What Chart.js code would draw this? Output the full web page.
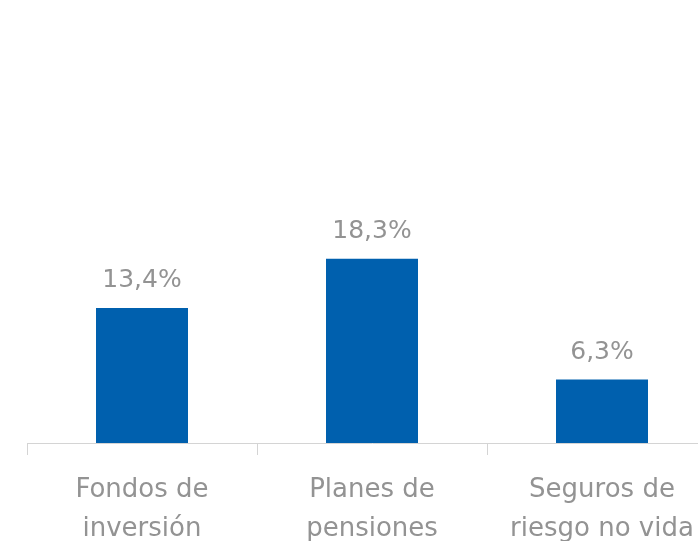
<!DOCTYPE html>
<html>
<head>
<meta charset="utf-8">
<script src="https://cdn.jsdelivr.net/npm/chart.js@4/dist/chart.umd.min.js"></script>
<style>
  html, body { margin: 0; padding: 0; background: #fff; overflow: hidden; }
  #wrap { width: 740px; height: 541px; }
</style>
</head>
<body>
<div id="wrap"><canvas id="grafico"></canvas></div>
<script>
const categorias = [['Fondos de', 'inversión'], ['Planes de', 'pensiones'], ['Seguros de', 'riesgo no vida']];
const valores = [13.4, 18.3, 6.3];

const colorBarra = '#0060ae';
const colorTexto = '#939393';
const fuente = '"DejaVu Sans", sans-serif';

// etiquetas de valor encima de cada barra
const etiquetasValor = {
  id: 'etiquetasValor',
  afterDatasetsDraw(chart) {
    const ctx = chart.ctx;
    const meta = chart.getDatasetMeta(0);
    ctx.save();
    ctx.font = '25px ' + fuente;
    ctx.fillStyle = colorTexto;
    ctx.textAlign = 'center';
    ctx.textBaseline = 'alphabetic';
    meta.data.forEach((bar, i) => {
      const txt = valores[i].toFixed(1).replace('.', ',') + '%';
      ctx.fillText(txt, bar.x, bar.y - 21);
    });
    ctx.restore();
  }
};

const grafx = document.getElementById('grafico').getContext('2d');
const grafico = new Chart(grafx, {
  type: 'bar',
  data: {
    labels: categorias,
    datasets: [{
      data: valores,
      backgroundColor: colorBarra,
      barPercentage: 0.4,
      categoryPercentage: 1
    }]
  },
  options: {
    responsive: true,
    maintainAspectRatio: false,
    animation: false,
    layout: { padding: { left: 27, right: 23, top: 0, bottom: 0 } },
    plugins: { legend: { display: false }, tooltip: { enabled: false } },
    scales: {
      x: {
        afterFit(axis) { axis.height = 98; },
        grid: {
          offset: true,
          drawOnChartArea: false,
          drawTicks: true,
          tickLength: 12,
          color: '#d4d4d4'
        },
        border: { color: '#d4d4d4', width: 1 },
        ticks: {
          color: colorTexto,
          font: { family: fuente, size: 26, lineHeight: 1.5 },
          padding: 16,
          maxRotation: 0,
          autoSkip: false
        }
      },
      y: {
        display: false,
        min: 0,
        max: 44
      }
    }
  },
  plugins: [etiquetasValor]
});
</script>
</body>
</html>
